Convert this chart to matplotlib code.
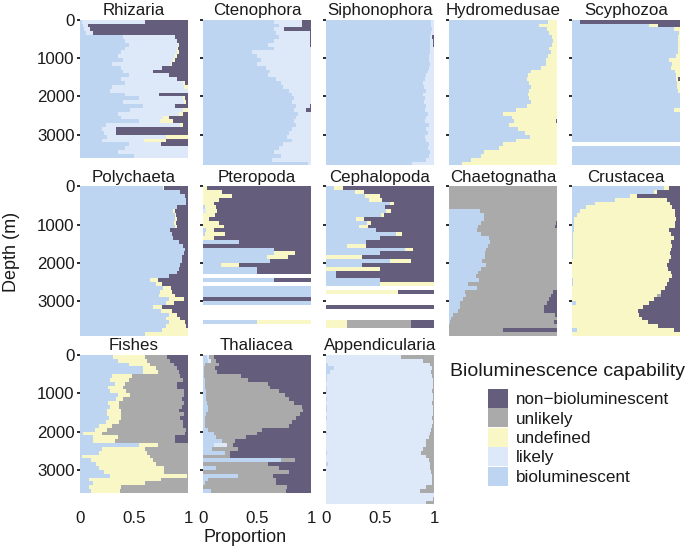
import matplotlib
matplotlib.use("Agg")
import matplotlib.pyplot as plt
from matplotlib.patches import Patch

plt.rcParams['font.family'] = ['Liberation Sans', 'DejaVu Sans']

# ---------------- data ----------------
CATEGORIES = ["bioluminescent", "likely", "undefined", "unlikely", "non\u2212bioluminescent"]
COLORS = ["#bdd5f1", "#dde9f8", "#f9f7c6", "#aaaaab", "#645d7b"]
LEGEND_TITLE = "Bioluminescence capability"

# top of each 100 m depth bin (m)
BIN_DEPTHS = [0, 100, 200, 300, 400, 500, 600, 700, 800, 900, 1000, 1100, 1200,
              1300, 1400, 1500, 1600, 1700, 1800, 1900, 2000, 2100, 2200, 2300,
              2400, 2500, 2600, 2700, 2800, 2900, 3000, 3100, 3200, 3300, 3400,
              3500, 3600, 3700, 3800]
DEPTH_TICKS = [0, 1000, 2000, 3000]
PROP_TICKS = [0, 0.5, 1]
PROP_TICK_LABELS = ["0", "0.5", "1"]

TAXA = ["Rhizaria", "Ctenophora", "Siphonophora", "Hydromedusae", "Scyphozoa",
        "Polychaeta", "Pteropoda", "Cephalopoda", "Chaetognatha", "Crustacea",
        "Fishes", "Thaliacea", "Appendicularia"]

# Each row = one depth bin: cumulative proportion at the end of
# (bioluminescent, likely, undefined, unlikely); the rest is non-bioluminescent.
# None = no data in that bin.
rhizaria = [
    (0.02, 0.60, 0.60, 0.60), (0.03, 0.07, 0.07, 0.07), (0.04, 0.09, 0.09, 0.09),
    (0.06, 0.12, 0.12, 0.12), (0.40, 0.88, 0.88, 0.88), (0.42, 0.90, 0.90, 0.90),
    (0.45, 0.91, 0.92, 0.92), (0.42, 0.90, 0.91, 0.91), (0.38, 0.90, 0.92, 0.92),
    (0.35, 0.88, 0.90, 0.90), (0.40, 0.86, 0.88, 0.88), (0.30, 0.84, 0.85, 0.85),
    (0.38, 0.76, 0.76, 0.76), (0.40, 0.68, 0.68, 0.68), (0.45, 0.82, 0.82, 0.82),
    (0.38, 0.90, 0.90, 0.90), (0.42, 0.95, 0.97, 0.97), (0.30, 0.96, 1.00, 1.00),
    (0.28, 1.00, 1.00, 1.00), (0.42, 0.73, 0.73, 0.73), (0.55, 0.95, 0.97, 0.97),
    (0.40, 0.96, 0.98, 0.98), (0.58, 0.88, 0.88, 0.88), (0.46, 0.95, 1.00, 1.00),
    (0.35, 0.92, 0.95, 0.95), (0.38, 0.77, 0.82, 0.82), (0.55, 0.74, 0.86, 0.86),
    (0.24, 0.93, 0.95, 0.95), (0.20, 0.33, 0.33, 0.33), (0.22, 0.33, 0.33, 0.33),
    (0.25, 0.80, 1.00, 1.00), (0.20, 0.59, 0.80, 0.80), (0.45, 0.75, 0.75, 0.75),
    (0.42, 1.00, 1.00, 1.00), (0.35, 1.00, 1.00, 1.00), (0.50, 1.00, 1.00, 1.00),
]
ctenophora = [
    (0.66, 0.92, 0.92, 0.92), (0.70, 0.92, 0.92, 0.92), (0.66, 0.75, 0.75, 0.75),
    (0.68, 0.99, 0.99, 0.99), (0.70, 0.99, 0.99, 0.99), (0.66, 0.99, 0.99, 0.99),
    (0.60, 0.99, 0.99, 0.99), (0.66, 1.00, 1.00, 1.00), (0.45, 1.00, 1.00, 1.00),
    (0.50, 1.00, 1.00, 1.00), (0.54, 1.00, 1.00, 1.00), (0.50, 1.00, 1.00, 1.00),
    (0.58, 1.00, 1.00, 1.00), (0.62, 1.00, 1.00, 1.00), (0.60, 1.00, 1.00, 1.00),
    (0.68, 1.00, 1.00, 1.00), (0.72, 1.00, 1.00, 1.00), (0.74, 1.00, 1.00, 1.00),
    (0.80, 1.00, 1.00, 1.00), (0.82, 1.00, 1.00, 1.00), (0.84, 1.00, 1.00, 1.00),
    (0.82, 1.00, 1.00, 1.00), (0.86, 0.99, 0.99, 0.99), (0.84, 0.95, 0.95, 0.95),
    (0.88, 1.00, 1.00, 1.00), (0.86, 1.00, 1.00, 1.00), (0.84, 1.00, 1.00, 1.00),
    (0.86, 1.00, 1.00, 1.00), (0.82, 1.00, 1.00, 1.00), (0.80, 1.00, 1.00, 1.00),
    (0.78, 1.00, 1.00, 1.00), (0.82, 1.00, 1.00, 1.00), (0.74, 1.00, 1.00, 1.00),
    (0.70, 1.00, 1.00, 1.00), (0.66, 1.00, 1.00, 1.00), (0.72, 1.00, 1.00, 1.00),
    (0.64, 1.00, 1.00, 1.00), (0.97, 1.00, 1.00, 1.00),
]
siphonophora = [
    (0.97, 1.00, 1.00, 1.00), (0.97, 1.00, 1.00, 1.00), (0.98, 1.00, 1.00, 1.00),
    (0.97, 1.00, 1.00, 1.00), (0.96, 0.985, 0.985, 0.985), (0.96, 0.99, 0.99, 0.99),
    (0.96, 0.99, 0.99, 0.99), (0.96, 1.00, 1.00, 1.00), (0.96, 1.00, 1.00, 1.00),
    (0.95, 1.00, 1.00, 1.00), (0.95, 1.00, 1.00, 1.00), (0.96, 1.00, 1.00, 1.00),
    (0.95, 1.00, 1.00, 1.00), (0.94, 1.00, 1.00, 1.00), (0.93, 1.00, 1.00, 1.00),
    (0.92, 1.00, 1.00, 1.00), (0.90, 1.00, 1.00, 1.00), (0.91, 1.00, 1.00, 1.00),
    (0.93, 1.00, 1.00, 1.00), (0.90, 1.00, 1.00, 1.00), (0.92, 1.00, 1.00, 1.00),
    (0.91, 1.00, 1.00, 1.00), (0.93, 1.00, 1.00, 1.00), (0.92, 1.00, 1.00, 1.00),
    (0.94, 1.00, 1.00, 1.00), (0.93, 1.00, 1.00, 1.00), (0.92, 1.00, 1.00, 1.00),
    (0.95, 1.00, 1.00, 1.00), (0.93, 1.00, 1.00, 1.00), (0.94, 1.00, 1.00, 1.00),
    (0.92, 1.00, 1.00, 1.00), (0.93, 1.00, 1.00, 1.00), (0.95, 1.00, 1.00, 1.00),
    (0.94, 1.00, 1.00, 1.00), (0.96, 1.00, 1.00, 1.00), (0.95, 1.00, 1.00, 1.00),
    (0.93, 1.00, 1.00, 1.00), (0.80, 1.00, 1.00, 1.00),
]
hydromedusae = [
    (0.92, 0.92, 1.00, 1.00), (0.83, 0.83, 1.00, 1.00), (0.91, 0.91, 1.00, 1.00),
    (0.93, 0.93, 1.00, 1.00), (0.95, 0.95, 1.00, 1.00), (0.96, 0.96, 1.00, 1.00),
    (0.95, 0.95, 1.00, 1.00), (0.93, 0.93, 1.00, 1.00), (0.94, 0.94, 1.00, 1.00),
    (0.92, 0.92, 1.00, 1.00), (0.90, 0.90, 1.00, 1.00), (0.90, 0.90, 1.00, 1.00),
    (0.85, 0.85, 1.00, 1.00), (0.76, 0.76, 1.00, 1.00), (0.73, 0.73, 1.00, 1.00),
    (0.72, 0.72, 1.00, 1.00), (0.74, 0.74, 1.00, 1.00), (0.76, 0.76, 1.00, 1.00),
    (0.74, 0.74, 1.00, 1.00), (0.73, 0.73, 1.00, 1.00), (0.74, 0.74, 1.00, 1.00),
    (0.76, 0.76, 1.00, 1.00), (0.72, 0.72, 1.00, 1.00), (0.62, 0.62, 1.00, 1.00),
    (0.50, 0.50, 1.00, 1.00), (0.58, 0.58, 1.00, 1.00), (0.60, 0.60, 0.99, 0.99),
    (0.56, 0.56, 1.00, 1.00), (0.64, 0.64, 1.00, 1.00), (0.70, 0.70, 1.00, 1.00),
    (0.75, 0.75, 1.00, 1.00), (0.62, 0.62, 1.00, 1.00), (0.50, 0.50, 1.00, 1.00),
    (0.46, 0.46, 1.00, 1.00), (0.32, 0.32, 1.00, 1.00), (0.30, 0.30, 1.00, 1.00),
    (0.20, 0.20, 1.00, 1.00), (0.12, 0.12, 1.00, 1.00),
]
scyphozoa = [
    (0.07, 0.07, 0.07, 0.07), (0.71, 0.71, 0.80, 0.80), (0.94, 0.94, 1.00, 1.00),
    (0.99, 0.99, 1.00, 1.00), (0.985, 0.985, 1.00, 1.00), (0.985, 0.985, 1.00, 1.00),
    (0.985, 0.985, 1.00, 1.00), (0.985, 0.985, 1.00, 1.00), (0.985, 0.985, 1.00, 1.00),
    (0.96, 0.96, 1.00, 1.00), (0.90, 0.90, 1.00, 1.00), (0.93, 0.93, 1.00, 1.00),
    (0.92, 0.92, 1.00, 1.00), (0.95, 0.95, 1.00, 1.00), (0.96, 0.96, 1.00, 1.00),
    (0.96, 0.96, 0.985, 0.985), (0.97, 0.97, 1.00, 1.00), (0.97, 0.97, 1.00, 1.00),
    (0.98, 0.98, 1.00, 1.00), (1.00, 1.00, 1.00, 1.00), (1.00, 1.00, 1.00, 1.00),
    (1.00, 1.00, 1.00, 1.00), (1.00, 1.00, 1.00, 1.00), (0.94, 0.94, 1.00, 1.00),
    (1.00, 1.00, 1.00, 1.00), (1.00, 1.00, 1.00, 1.00), (1.00, 1.00, 1.00, 1.00),
    (1.00, 1.00, 1.00, 1.00), (1.00, 1.00, 1.00, 1.00), (1.00, 1.00, 1.00, 1.00),
    (1.00, 1.00, 1.00, 1.00), (1.00, 1.00, 1.00, 1.00), None,
    (1.00, 1.00, 1.00, 1.00), (1.00, 1.00, 1.00, 1.00), (1.00, 1.00, 1.00, 1.00),
    (1.00, 1.00, 1.00, 1.00), (1.00, 1.00, 1.00, 1.00),
]
polychaeta = [
    (0.77, 0.77, 0.78, 0.78), (0.93, 0.93, 0.93, 0.93), (0.97, 0.97, 0.97, 0.97),
    (0.98, 0.98, 0.98, 0.98), (0.98, 0.98, 0.98, 0.98), (0.90, 0.90, 0.90, 0.90),
    (0.86, 0.86, 0.88, 0.88), (0.88, 0.88, 0.89, 0.89), (0.88, 0.88, 0.90, 0.90),
    (0.87, 0.87, 0.89, 0.89), (0.88, 0.88, 0.90, 0.90), (0.83, 0.83, 0.83, 0.83),
    (0.85, 0.85, 0.85, 0.85), (0.86, 0.86, 0.86, 0.86), (0.92, 0.92, 0.92, 0.92),
    (0.95, 0.95, 0.95, 0.95), (0.97, 0.97, 0.97, 0.97), (0.96, 0.96, 0.96, 0.96),
    (0.94, 0.94, 0.94, 0.94), (0.94, 0.94, 0.94, 0.94), (0.93, 0.93, 0.93, 0.93),
    (0.92, 0.92, 0.92, 0.92), (0.90, 0.90, 0.90, 0.90), (0.82, 0.82, 0.82, 0.82),
    (0.65, 0.65, 0.72, 0.72), (0.70, 0.70, 0.76, 0.76), (0.77, 0.77, 0.84, 0.84),
    (0.74, 0.74, 0.85, 0.85), (0.73, 0.73, 0.88, 0.88), (0.82, 0.82, 0.96, 0.96),
    (0.80, 0.80, 0.87, 0.87), (0.68, 0.68, 0.76, 0.76), (0.75, 0.75, 0.85, 0.85),
    (0.82, 0.82, 0.90, 0.90), (0.80, 0.80, 0.93, 0.93), (0.82, 0.82, 0.97, 0.97),
    (0.80, 0.80, 0.98, 0.98), (0.76, 0.76, 1.00, 1.00), (0.60, 0.60, 1.00, 1.00),
]
pteropoda = [
    (0.00, 0.00, 0.04, 0.04), (0.00, 0.00, 0.18, 0.18), (0.00, 0.00, 0.27, 0.27),
    (0.00, 0.00, 0.15, 0.15), (0.00, 0.00, 0.10, 0.10), (0.02, 0.02, 0.12, 0.12),
    (0.00, 0.03, 0.13, 0.13), (0.00, 0.00, 0.11, 0.11), (0.00, 0.00, 0.06, 0.06),
    (0.00, 0.00, 0.15, 0.15), (0.00, 0.00, 0.19, 0.19), (0.03, 0.03, 0.10, 0.10),
    (0.02, 0.02, 0.20, 0.20), (0.00, 0.00, 0.10, 0.10), (0.33, 0.33, 0.33, 0.33),
    (0.00, 0.00, 0.00, 0.00), (0.66, 0.66, 0.66, 0.66), (0.66, 0.66, 0.85, 0.85),
    (0.59, 0.59, 0.79, 0.79), (0.62, 0.62, 0.62, 0.62), (0.17, 0.17, 0.33, 0.33),
    (0.50, 0.50, 0.50, 0.50), (0.50, 0.50, 0.50, 0.50), None,
    (0.66, 0.66, 0.66, 0.66), None, (1.00, 1.00, 1.00, 1.00),
    (1.00, 1.00, 1.00, 1.00), (1.00, 1.00, 1.00, 1.00), (0.00, 0.00, 0.00, 0.00),
    (1.00, 1.00, 1.00, 1.00), None, None, None, None,
    (0.50, 0.50, 1.00, 1.00),
]
cephalopoda = [
    (0.07, 0.07, 0.16, 0.16), (0.27, 0.27, 0.35, 0.35), (0.36, 0.36, 0.50, 0.50),
    (0.40, 0.40, 0.52, 0.52), (0.59, 0.59, 0.63, 0.63), (0.55, 0.55, 0.55, 0.55),
    (0.56, 0.56, 0.60, 0.60), (0.51, 0.51, 0.54, 0.54), (0.28, 0.28, 0.35, 0.35),
    (0.38, 0.38, 0.42, 0.42), (0.31, 0.31, 0.39, 0.39), (0.46, 0.46, 0.46, 0.46),
    (0.65, 0.65, 0.70, 0.70), (0.50, 0.50, 0.50, 0.50), (0.37, 0.37, 0.37, 0.37),
    (0.19, 0.19, 0.37, 0.37), (0.73, 0.73, 0.81, 0.81), (0.50, 0.50, 0.50, 0.50),
    (0.00, 0.00, 0.33, 0.33), (0.59, 0.59, 0.79, 0.79), (0.33, 0.33, 0.33, 0.33),
    (0.00, 0.00, 0.50, 0.50), (0.09, 0.09, 0.09, 0.09), (0.09, 0.09, 0.09, 0.09),
    (0.50, 0.50, 0.50, 0.50), (0.50, 0.50, 1.00, 1.00), None,
    (0.00, 0.00, 0.67, 0.67), None, None, None,
    (0.00, 0.00, 0.00, 0.00), None, None, None,
    (0.00, 0.00, 0.19, 0.79), (0.00, 0.00, 0.19, 0.79),
]
chaetognatha = [
    (0.00, 0.00, 0.00, 1.00), (0.00, 0.00, 0.00, 1.00), (0.00, 0.00, 0.00, 1.00),
    (0.00, 0.00, 0.00, 1.00), (0.00, 0.00, 0.00, 1.00), (0.00, 0.00, 0.00, 1.00),
    (0.29, 0.29, 0.29, 1.00), (0.32, 0.32, 0.32, 1.00), (0.32, 0.32, 0.32, 1.00),
    (0.30, 0.30, 0.30, 0.99), (0.27, 0.27, 0.27, 0.985), (0.26, 0.26, 0.26, 1.00),
    (0.30, 0.30, 0.30, 1.00), (0.37, 0.37, 0.37, 1.00), (0.38, 0.38, 0.38, 1.00),
    (0.36, 0.36, 0.36, 1.00), (0.34, 0.34, 0.34, 1.00), (0.33, 0.33, 0.33, 1.00),
    (0.33, 0.33, 0.33, 1.00), (0.31, 0.31, 0.31, 1.00), (0.34, 0.34, 0.34, 1.00),
    (0.30, 0.30, 0.30, 1.00), (0.27, 0.27, 0.27, 1.00), (0.25, 0.25, 0.25, 1.00),
    (0.28, 0.28, 0.28, 1.00), (0.18, 0.18, 0.18, 1.00), (0.26, 0.26, 0.26, 1.00),
    (0.15, 0.15, 0.15, 0.96), (0.16, 0.16, 0.16, 0.94), (0.13, 0.13, 0.13, 0.93),
    (0.10, 0.10, 0.10, 0.91), (0.10, 0.10, 0.10, 0.88), (0.08, 0.08, 0.08, 0.88),
    (0.04, 0.04, 0.04, 0.98), (0.02, 0.02, 0.02, 1.00), (0.01, 0.01, 0.01, 0.97),
    (0.00, 0.00, 0.00, 1.00), (0.00, 0.00, 0.00, 0.50), (0.00, 0.00, 0.00, 1.00),
]
crustacea = [
    (0.85, 0.85, 0.90, 0.90), (0.76, 0.76, 0.79, 0.79), (0.54, 0.54, 0.60, 0.60),
    (0.40, 0.40, 0.88, 0.88), (0.21, 0.21, 0.91, 0.91), (0.13, 0.13, 0.93, 0.93),
    (0.07, 0.07, 0.95, 0.95), (0.05, 0.05, 0.95, 0.95), (0.02, 0.02, 0.96, 0.96),
    (0.02, 0.02, 0.95, 0.95), (0.02, 0.02, 0.95, 0.95), (0.02, 0.02, 0.90, 0.90),
    (0.01, 0.01, 0.92, 0.92), (0.01, 0.01, 0.94, 0.94), (0.01, 0.01, 0.92, 0.92),
    (0.01, 0.01, 0.93, 0.93), (0.01, 0.01, 0.92, 0.92), (0.01, 0.01, 0.91, 0.91),
    (0.01, 0.01, 0.92, 0.92), (0.00, 0.00, 0.90, 0.90), (0.00, 0.00, 0.88, 0.88),
    (0.00, 0.00, 0.89, 0.89), (0.00, 0.00, 0.92, 0.92), (0.00, 0.00, 0.93, 0.93),
    (0.01, 0.01, 0.90, 0.90), (0.01, 0.01, 0.88, 0.88), (0.00, 0.00, 0.86, 0.86),
    (0.00, 0.00, 0.82, 0.82), (0.00, 0.00, 0.79, 0.82), (0.00, 0.00, 0.76, 0.76),
    (0.04, 0.04, 0.71, 0.71), (0.00, 0.00, 0.66, 0.66), (0.00, 0.00, 0.61, 0.61),
    (0.00, 0.00, 0.62, 0.62), (0.00, 0.00, 0.65, 0.65), (0.00, 0.00, 0.70, 0.70),
    (0.00, 0.00, 0.80, 0.80), (0.05, 0.05, 0.94, 0.94), (0.00, 0.00, 1.00, 1.00),
]
fishes = [
    (0.31, 0.31, 0.60, 0.81), (0.35, 0.35, 0.62, 0.83), (0.45, 0.45, 0.65, 0.87),
    (0.58, 0.58, 0.70, 0.90), (0.58, 0.58, 0.72, 0.92), (0.30, 0.30, 0.48, 0.93),
    (0.28, 0.28, 0.45, 0.95), (0.32, 0.32, 0.42, 0.90), (0.26, 0.26, 0.40, 0.90),
    (0.28, 0.28, 0.43, 0.96), (0.35, 0.35, 0.46, 0.96), (0.33, 0.33, 0.40, 0.94),
    (0.26, 0.26, 0.36, 0.96), (0.28, 0.28, 0.36, 0.94), (0.25, 0.25, 0.38, 0.92),
    (0.25, 0.25, 0.38, 0.96), (0.27, 0.27, 0.38, 0.93), (0.24, 0.24, 0.36, 0.95),
    (0.18, 0.18, 0.30, 0.95), (0.14, 0.14, 0.25, 0.98), (0.03, 0.03, 0.20, 0.97),
    (0.12, 0.12, 0.35, 0.88), (0.12, 0.12, 0.32, 0.88), (0.55, 0.55, 0.72, 1.00),
    (0.20, 0.20, 0.60, 1.00), (0.18, 0.18, 0.62, 1.00), (0.02, 0.02, 0.65, 1.00),
    (0.10, 0.10, 0.68, 1.00), (0.15, 0.15, 0.70, 1.00), (0.18, 0.18, 0.78, 1.00),
    (0.22, 0.22, 0.78, 1.00), (0.28, 0.28, 0.99, 1.00), (0.08, 0.08, 0.75, 1.00),
    (0.12, 0.12, 0.60, 1.00), (0.08, 0.08, 0.38, 1.00), (0.10, 0.10, 0.37, 1.00),
]
thaliacea = [
    (0.04, 0.06, 0.06, 0.10), (0.05, 0.07, 0.07, 0.12), (0.02, 0.02, 0.02, 0.15),
    (0.01, 0.01, 0.01, 0.11), (0.01, 0.01, 0.01, 0.13), (0.01, 0.01, 0.01, 0.35),
    (0.02, 0.02, 0.02, 0.42), (0.02, 0.02, 0.02, 0.60), (0.02, 0.02, 0.02, 0.62),
    (0.03, 0.03, 0.03, 0.70), (0.03, 0.03, 0.03, 0.76), (0.03, 0.03, 0.03, 0.80),
    (0.04, 0.04, 0.04, 0.84), (0.05, 0.05, 0.05, 0.92), (0.05, 0.05, 0.05, 0.93),
    (0.03, 0.03, 0.03, 0.90), (0.02, 0.02, 0.02, 0.86), (0.02, 0.02, 0.02, 0.82),
    (0.02, 0.02, 0.02, 0.80), (0.05, 0.05, 0.05, 0.55), (0.10, 0.10, 0.10, 0.50),
    (0.12, 0.12, 0.12, 0.40), (0.18, 0.18, 0.18, 0.30), (0.10, 0.22, 0.22, 0.28),
    (0.08, 0.08, 0.08, 0.32), (0.20, 0.20, 0.20, 0.25), (0.00, 0.00, 0.00, 0.25),
    (0.72, 0.72, 0.72, 0.85), (0.00, 0.00, 0.00, 0.60), (0.12, 0.12, 0.12, 0.70),
    (0.00, 0.00, 0.00, 0.80), (0.32, 0.32, 0.32, 0.65), (0.05, 0.05, 0.05, 0.68),
    (0.02, 0.02, 0.02, 0.68), (0.00, 0.00, 0.00, 0.78), (0.07, 0.07, 0.07, 0.77),
]
appendicularia = [
    (0.00, 0.69, 0.69, 1.00), (0.00, 0.90, 0.90, 1.00), (0.02, 0.96, 0.96, 1.00),
    (0.07, 0.98, 0.98, 1.00), (0.04, 0.97, 0.97, 1.00), (0.01, 0.98, 0.98, 1.00),
    (0.01, 0.99, 0.99, 1.00), (0.00, 0.99, 0.99, 1.00), (0.01, 0.99, 0.99, 1.00),
    (0.01, 0.98, 0.98, 1.00), (0.00, 0.99, 0.99, 1.00), (0.01, 0.99, 0.99, 1.00),
    (0.00, 0.98, 0.98, 1.00), (0.01, 0.99, 0.99, 1.00), (0.01, 0.99, 0.99, 1.00),
    (0.00, 0.99, 0.99, 1.00), (0.01, 0.98, 0.98, 1.00), (0.00, 0.99, 0.99, 1.00),
    (0.00, 0.98, 0.98, 1.00), (0.00, 0.97, 0.97, 1.00), (0.01, 0.96, 0.96, 1.00),
    (0.00, 0.95, 0.95, 1.00), (0.00, 0.93, 0.93, 1.00), (0.00, 0.93, 0.93, 1.00),
    (0.00, 0.90, 0.90, 1.00), (0.01, 0.88, 0.88, 1.00), (0.00, 0.93, 0.93, 1.00),
    (0.00, 0.95, 0.95, 1.00), (0.02, 0.96, 0.96, 1.00), (0.00, 0.96, 0.96, 1.00),
    (0.00, 0.97, 0.97, 1.00), (0.00, 0.98, 0.98, 1.00), (0.00, 0.98, 0.98, 1.00),
    (0.00, 0.98, 0.98, 1.00), (0.00, 0.93, 0.93, 1.00), (0.00, 0.87, 0.87, 1.00),
    (0.00, 1.00, 1.00, 1.00), (0.00, 0.99, 0.99, 1.00), (0.00, 0.93, 0.93, 1.00),
]
BOUNDS = [rhizaria, ctenophora, siphonophora, hydromedusae, scyphozoa,
          polychaeta, pteropoda, cephalopoda, chaetognatha, crustacea,
          fishes, thaliacea, appendicularia]

# ---------------- layout (pixels of a 685x549 canvas) ----------------
W, H = 685, 549
COL_LEFT = [80, 203, 326, 449, 572]
ROW_TOP = [19.7, 186.3, 355.0]
PANEL_W = 108
DEPTH_MAX = 3900
PX_PER_M = 0.03833
PANEL_H = DEPTH_MAX * PX_PER_M
BIN_H = 100

fig = plt.figure(figsize=(W / 100, H / 100), dpi=100)
TXT = "#1a1a1a"

for i, (name, rows) in enumerate(zip(TAXA, BOUNDS)):
    r, c = divmod(i, 5)
    ax = fig.add_axes([COL_LEFT[c] / W, 1 - (ROW_TOP[r] + PANEL_H) / H,
                       PANEL_W / W, PANEL_H / H])
    for cat in range(5):
        ys, lefts, widths = [], [], []
        for k, row in enumerate(rows):
            if row is None:
                continue
            edges = (0.0,) + tuple(row) + (1.0,)
            w = edges[cat + 1] - edges[cat]
            if w > 1e-9:
                ys.append(BIN_DEPTHS[k])
                lefts.append(edges[cat])
                widths.append(w)
        if ys:
            ax.barh(ys, widths, left=lefts, height=BIN_H, align='edge',
                    color=COLORS[cat], linewidth=0)
    ax.set_xlim(0, 1)
    ax.set_ylim(DEPTH_MAX, 0)
    for s in ax.spines.values():
        s.set_visible(False)
    ax.set_yticks(DEPTH_TICKS)
    ax.set_yticklabels([str(t) for t in DEPTH_TICKS] if c == 0 else [])
    ax.tick_params(axis='y', length=2, width=1.3, pad=2, labelsize=12.2,
                   color=TXT, labelcolor=TXT)
    ax.set_xticks(PROP_TICKS)
    ax.set_xticklabels(PROP_TICK_LABELS if r == 2 else [])
    ax.tick_params(axis='x', length=0, pad=5, labelsize=12.2, labelcolor=TXT)
    ax.set_title(name, fontsize=12.2, pad=3.3, color=TXT)

fig.text(12 / W, 1 - 252 / H, "Depth (m)", rotation=90, ha='center',
         va='center', fontsize=13, color=TXT)
fig.text(245 / W, 1 - 537 / H, "Proportion", ha='center', va='center',
         fontsize=13, color=TXT)

# legend
fig.text(450 / W, 1 - 372 / H, LEGEND_TITLE, ha='left', va='center',
         fontsize=14, color=TXT)
order = [4, 3, 2, 1, 0]
handles = [Patch(facecolor=COLORS[j], edgecolor='none') for j in order]
labels = [CATEGORIES[j] for j in order]
fig.legend(handles, labels, loc='upper left',
           bbox_to_anchor=(488 / W, 1 - 389 / H), frameon=False,
           fontsize=12.3, handlelength=1.17, handleheight=1.3,
           labelspacing=0.05, handletextpad=0.45, borderpad=0,
           borderaxespad=0, labelcolor=TXT)

fig.savefig("out.png", dpi=100)
